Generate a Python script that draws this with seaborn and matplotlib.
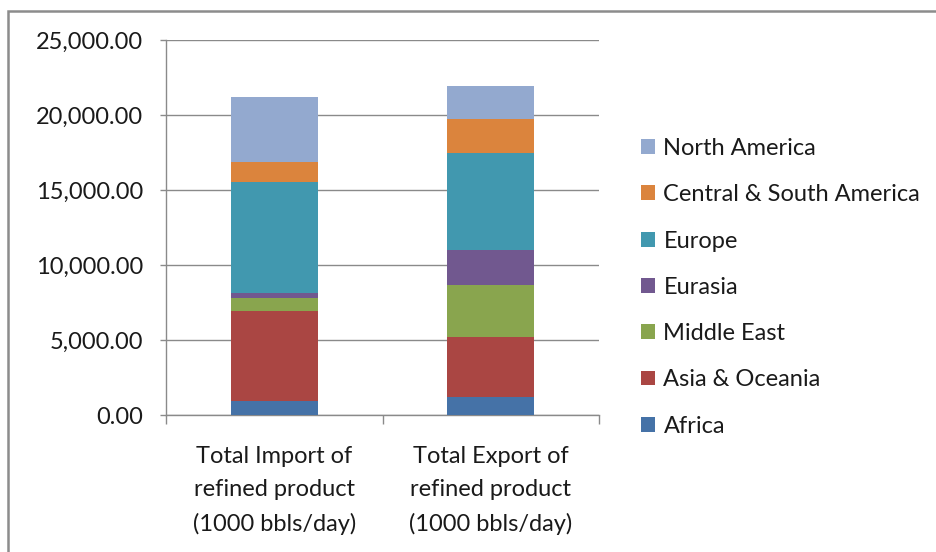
import matplotlib
matplotlib.use("Agg")
import matplotlib.pyplot as plt
import matplotlib.ticker as mticker
from matplotlib.patches import Patch, Rectangle
import numpy as np
import pandas as pd
import seaborn as sns

categories = [
    "Total Import of\nrefined product\n(1000 bbls/day)",
    "Total Export of\nrefined product\n(1000 bbls/day)",
]
regions = ["Africa", "Asia & Oceania", "Middle East", "Eurasia",
           "Europe", "Central & South America", "North America"]
import_values = [910, 6020, 890, 310, 7420, 1315, 4315]
export_values = [1180, 4040, 3425, 2355, 6445, 2310, 2155]
colors = ["#4572A7", "#AA4643", "#89A54E", "#71588F",
          "#4198AF", "#DB843D", "#93A9CF"]
y_ticks = [0, 5000, 10000, 15000, 20000, 25000]

sns.set_theme(style="white")
plt.rcParams["font.family"] = ["Lato", "DejaVu Sans"]

FS = 17

df = pd.DataFrame({"region": regions,
                   categories[0]: import_values,
                   categories[1]: export_values}).set_index("region")
cum = df.cumsum()

fig = plt.figure(figsize=(9.37, 5.52), dpi=100)
ax = fig.add_axes([166 / 937, 1 - 415 / 552, (599 - 166) / 937, 375 / 552])

# stacked bars: draw running totals from the top segment down
for region, color in reversed(list(zip(regions, colors))):
    row = cum.loc[region]
    sns.barplot(x=list(row.index), y=list(row.values), color=color,
                width=0.4, saturation=1, linewidth=0, ax=ax, zorder=3)

ax.set_xlim(-0.5, 1.5)
ax.set_ylim(0, 25000)
ax.set_yticks(y_ticks)
ax.yaxis.set_major_formatter(mticker.FuncFormatter(lambda v, p: f"{v:,.2f}"))
ax.grid(axis="y", color="#8a8a8a", linewidth=1.0, zorder=0)
ax.set_axisbelow(True)
ax.set_xlabel("")
ax.set_ylabel("")

for s in ["top", "right"]:
    ax.spines[s].set_visible(False)
for s in ["left", "bottom"]:
    ax.spines[s].set_color("#8a8a8a")
    ax.spines[s].set_linewidth(1.0)

ax.tick_params(axis="y", which="major", direction="out", length=4.5,
               width=1.0, color="#8a8a8a", pad=12, labelsize=FS,
               labelcolor="#1a1a1a", left=True)
ax.set_xticks([0, 1])
ax.set_xticklabels(categories, fontsize=FS, color="#1a1a1a", linespacing=1.72)
ax.set_xticks([-0.5, 0.5, 1.5], minor=True)
ax.tick_params(axis="x", which="major", length=0, pad=22)
ax.tick_params(axis="x", which="minor", direction="out", length=6.5,
               width=1.0, color="#8a8a8a", bottom=True)

handles = [Patch(facecolor=c, edgecolor="none") for c in colors]
leg = ax.legend(handles[::-1], regions[::-1], loc="upper left",
                bbox_to_anchor=(641 / 937, 1 - 138 / 552),
                bbox_transform=fig.transFigure, frameon=False,
                fontsize=FS, handlelength=0.6, handleheight=0.6,
                handletextpad=0.35, labelspacing=1.07, borderaxespad=0,
                borderpad=0)
for t in leg.get_texts():
    t.set_color("#1a1a1a")

# chart-area border
fig.patches.append(Rectangle((8 / 937, -0.1), 1.2, 1.1 - 10.5 / 552,
                             transform=fig.transFigure, fill=False,
                             edgecolor="#8c8c8c", linewidth=1.8))

fig.savefig("out.png", dpi=100)
